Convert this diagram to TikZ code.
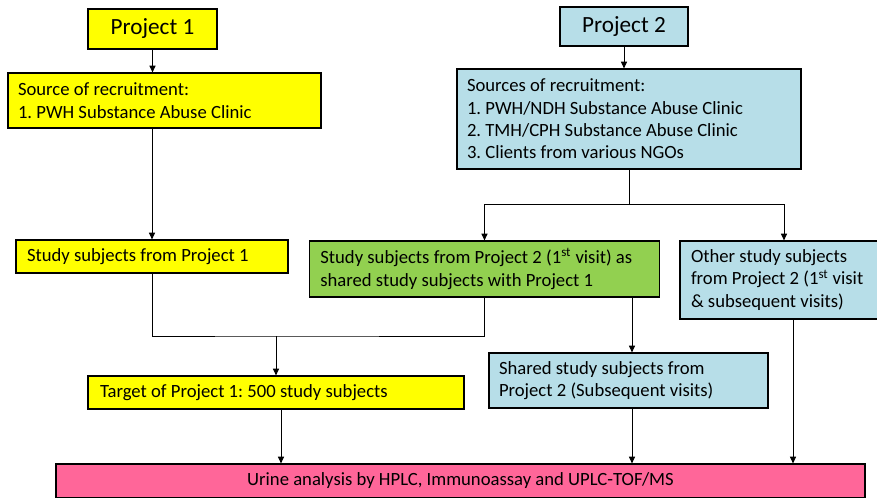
\documentclass[tikz,border=0pt]{standalone}
\usepackage{fontspec}
\setmainfont{Carlito}
\usetikzlibrary{arrows.meta,calc}
\definecolor{pyellow}{HTML}{FFFF00}
\definecolor{pblue}{HTML}{B7DEE8}
\definecolor{pgreen}{HTML}{92D050}
\definecolor{ppink}{HTML}{FF6699}
\tikzset{
  box/.style={draw=black,line width=0.9pt,inner xsep=7.5pt,inner ysep=0pt,align=left,
    font=\fontsize{14}{16.8}\selectfont\frenchspacing,anchor=center,
    execute at begin node={\spaceskip=0pt\relax\xspaceskip=0pt\relax}},
  widebox/.style={draw=black,line width=0.9pt,inner sep=0pt,
    font=\fontsize{14}{16.8}\selectfont\frenchspacing,anchor=center},
  titlebox/.style={draw=black,line width=0.9pt,inner sep=0pt,align=center,
    font=\fontsize{17.4}{21}\selectfont,anchor=center},
  conn/.style={line width=0.7pt,draw=black},
  arr/.style={conn,-{Triangle[length=5pt,width=4.5pt]}}
}
\begin{document}
\begin{tikzpicture}[x=0.75pt,y=-0.75pt]
\useasboundingbox (0,0) rectangle (877,497);
% titles
\node[titlebox,fill=pyellow,minimum width=96.75pt,minimum height=30pt] (p1) at (152.5,29) {Project 1};
\node[titlebox,fill=pblue,minimum width=96pt,minimum height=29.25pt] (p2) at (624,26.5) {Project 2};
% sources
\node[box,fill=pyellow,text width=219.75pt,minimum height=41.25pt] (src1) at (164.5,100.5)
  {Source of recruitment:\\1. PWH Substance Abuse Clinic};
\node[box,fill=pblue,text width=243pt,minimum height=75pt] (src2) at (629,119)
  {Sources of recruitment:\\1. PWH/NDH Substance Abuse Clinic\\2. TMH/CPH Substance Abuse Clinic\\3. Clients from various NGOs};
% second row
\node[box,fill=pyellow,inner xsep=8.25pt,text width=187.5pt,minimum height=24.75pt] (ssp1) at (152,256.5)
  {Study subjects from Project 1};
\node[box,fill=pgreen,inner xsep=8.25pt,text width=246.25pt,minimum height=42pt] (green) at (484.5,269)
  {Study subjects from Project 2 (1\textsuperscript{st} visit) as\\shared study subjects with Project 1};
\node[box,fill=pblue,inner xsep=8.25pt,text width=153pt,minimum height=58.5pt] (other) at (793,280)
  {Other study subjects\\from Project 2 (1\textsuperscript{st} visit\\\& subsequent visits)};
% third row
\node[box,fill=pblue,text width=194.25pt,minimum height=41.25pt] (shared) at (628.5,380.5)
  {Shared study subjects from\\Project 2 (Subsequent visits)};
\node[box,fill=pyellow,inner xsep=9pt,text width=264pt,minimum height=24.75pt] (target) at (276,392.5)
  {Target of Project 1: 500 study subjects};
% final
\node[widebox,fill=ppink,minimum width=606.75pt,minimum height=25.5pt] (urine) at (460.5,481)
  {Urine analysis by HPLC, Immunoassay and UPLC-TOF/MS};
% connectors
\draw[arr] (p1.south) -- (p1.south |- src1.north);
\draw[arr] (p2.south) -- (p2.south |- src2.north);
\draw[arr] (src1.south -| ssp1.north) -- (ssp1.north);
\coordinate (sp) at (629,204);
\draw[conn] (src2.south) -- (sp);
\draw[arr] (sp) -| (green.north);
\draw[arr] (sp) -| ($(other.north)+(-9,0)$);
\coordinate (m) at (276,336);
\draw[conn] (ssp1.south) |- (m) -- (m -| green.south) -- (green.south);
\draw[arr] (m) -- (target.north);
\draw[arr] ($(green.south -| shared.north)+(3.5,0)$) -- ($(shared.north)+(3.5,0)$);
\draw[arr] ($(target.south)+(5,0)$) -- ($(target.south |- urine.north)+(5,0)$);
\draw[arr] ($(shared.south)+(3.5,0)$) -- ($(shared.south |- urine.north)+(3.5,0)$);
\draw[arr] (other.south) -- (other.south |- urine.north);
\end{tikzpicture}
\end{document}
